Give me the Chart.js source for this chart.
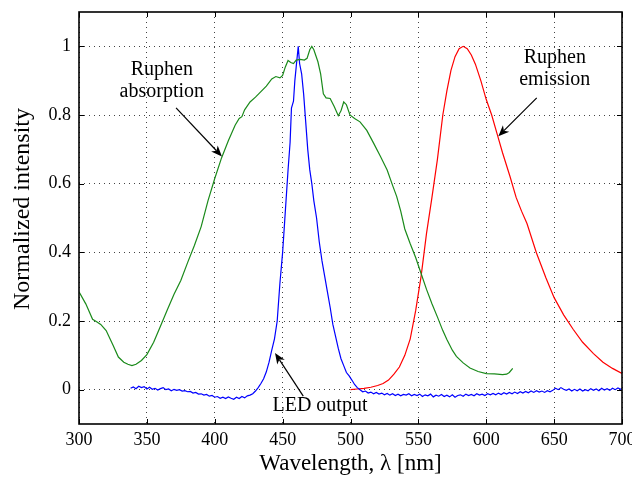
<!DOCTYPE html>
<html>
<head>
<meta charset="utf-8">
<script src="https://cdn.jsdelivr.net/npm/chart.js@4.4.1/dist/chart.umd.min.js"></script>
<style>
html,body{margin:0;padding:0;background:#fff;}
#wrap{width:632px;height:478px;position:relative;}
</style>
</head>
<body>
<div id="wrap"><canvas id="c" width="632" height="478"></canvas></div>
<script>
// ---- Data ----
const xTickValues = [300, 350, 400, 450, 500, 550, 600, 650, 700];
const yTickValues = [0, 0.2, 0.4, 0.6, 0.8, 1];
const yTickLabels = ['0', '0.2', '0.4', '0.6', '0.8', '1'];
const xTitle = 'Wavelength, λ [nm]';
const yTitle = 'Normalized intensity';

const absWl = [300,305,310,313,316,320,325,329,333,336,339,342,346,350,355,360,365,370,375,380,385,390,395,400,405,410,415,418,420,422,426,430,434,438,442,445,448,450,452,454,456,458,460,463,466,468,470,471.5,473,476,478,480,482,485,488,491,493,495,497,499.6,503,507,512,517,522,527,531,534,537,540,544,548,551,556,560,564,568,571,575,578,583,588,594,600,606,612,615,617,619.5];
const absVal = [0.285,0.25,0.205,0.198,0.19,0.172,0.13,0.095,0.08,0.074,0.07,0.074,0.085,0.102,0.138,0.185,0.232,0.278,0.318,0.37,0.42,0.475,0.55,0.615,0.675,0.725,0.77,0.79,0.795,0.815,0.838,0.852,0.868,0.884,0.905,0.912,0.908,0.915,0.94,0.959,0.953,0.95,0.96,0.962,0.96,0.965,0.99,1.0,0.99,0.955,0.92,0.862,0.85,0.848,0.825,0.798,0.812,0.838,0.83,0.80,0.79,0.78,0.755,0.718,0.68,0.64,0.595,0.563,0.52,0.468,0.425,0.385,0.35,0.292,0.25,0.212,0.172,0.146,0.115,0.097,0.078,0.063,0.053,0.047,0.046,0.044,0.045,0.05,0.062];

const emWl = [500,505,510,515,520,524,528,532,536,540,544,548,552,556,560,564,568,571,574,577,580,583,586,589,592,596,600,604,608,612,617.5,622,626,630,637,644,650,657,664,671,679,686,693,700];
const emVal = [0.0,0.002,0.004,0.007,0.012,0.018,0.028,0.045,0.066,0.1,0.148,0.23,0.33,0.455,0.56,0.67,0.8,0.87,0.93,0.97,0.993,1.0,0.993,0.975,0.948,0.9,0.845,0.8,0.745,0.69,0.621,0.56,0.52,0.484,0.398,0.325,0.268,0.218,0.176,0.138,0.105,0.08,0.062,0.047];

const ledWl = [338,340,342,344,346,348,350,352,354,356,358,360,362,364,366,368,370,372,374,376,378,380,382,384,386,388,390,392,394,396,398,400,402,404,406,408,410,412,414,416,418,420,422,424,426,428,430,432,434,436,438,440,442,444,446,448,450,452,454,455.5,456.5,458,459,460,461.5,462.5,464,465.5,467,468.5,470,471.5,473,475,477,479,481,483,485,487,489,491,493,495,497,499,501,503,505,507,509,511,513,515,517,519,521,523,525,527,529,531,533,535,537,539,541,543,545,547,549,551,553,555,557,559,561,563,565,567,569,571,573,575,577,579,581,583,585,587,589,591,593,595,597,599,601,603,605,607,609,611,613,615,617,619,621,623,625,627,629,631,633,635,637,639,641,643,645,647,649,651,653,655,657,659,661,663,665,667,669,671,673,675,677,679,681,683,685,687,689,691,693,695,697,699,700];
const ledVal = [0.004,0.008,0.003,0.01,0.006,0.009,0.002,0.007,0.001,0.004,-0.001,0.003,0.006,0.0,0.002,-0.003,0.001,-0.002,0.0,-0.004,-0.003,-0.006,-0.005,-0.01,-0.008,-0.013,-0.012,-0.016,-0.014,-0.019,-0.017,-0.022,-0.02,-0.025,-0.022,-0.026,-0.021,-0.025,-0.028,-0.022,-0.026,-0.02,-0.024,-0.018,-0.016,-0.012,-0.004,0.006,0.018,0.032,0.052,0.08,0.115,0.148,0.2,0.31,0.4,0.52,0.64,0.72,0.82,0.84,0.9,0.94,1.0,0.95,0.92,0.86,0.78,0.7,0.64,0.6,0.55,0.5,0.43,0.375,0.33,0.285,0.24,0.19,0.155,0.12,0.09,0.07,0.05,0.04,0.028,0.015,0.006,0.0,-0.006,-0.004,-0.01,-0.007,-0.012,-0.008,-0.013,-0.01,-0.015,-0.011,-0.016,-0.012,-0.017,-0.013,-0.018,-0.014,-0.016,-0.012,-0.018,-0.014,-0.017,-0.013,-0.02,-0.015,-0.018,-0.013,-0.021,-0.016,-0.019,-0.014,-0.02,-0.016,-0.021,-0.015,-0.022,-0.017,-0.015,-0.019,-0.013,-0.017,-0.014,-0.018,-0.012,-0.016,-0.013,-0.017,-0.012,-0.015,-0.011,-0.015,-0.01,-0.014,-0.009,-0.013,-0.008,-0.012,-0.007,-0.011,-0.006,-0.01,-0.005,-0.009,-0.004,-0.008,-0.003,-0.007,-0.004,-0.008,-0.003,-0.006,-0.002,0.004,0.0,0.006,0.001,-0.002,0.002,-0.004,0.001,-0.003,0.002,-0.004,0.0,-0.003,0.003,-0.002,0.002,-0.003,0.004,-0.001,0.003,-0.002,0.004,0.0,0.005,0.001,0.003];

// annotations: text lines at x (nm) and y values per line; arrows: tail -> head in data units
const notes = [
  {lines: ['Ruphen', 'absorption'], x: 361, y: [0.932, 0.868]},
  {lines: ['Ruphen', 'emission'], x: 650.5, y: [0.967, 0.903]},
  {lines: ['LED output'], x: 477.5, y: [-0.046]}
];
const arrows = [
  {from: [371.5, 0.821], to: [405.3, 0.679]},
  {from: [637.2, 0.85], to: [608.9, 0.738]},
  {from: [465.2, -0.019], to: [444.4, 0.107]}
];

const pts = (xs, ys) => xs.map((x, i) => ({x: x, y: ys[i]}));
const FONT = 'Liberation Serif';

const decor = {
  id: 'decor',
  afterDatasetsDraw(chart) {
    const {ctx, chartArea: a, scales: {x, y}} = chart;
    ctx.save();
    // inner ticks
    ctx.strokeStyle = '#000';
    ctx.lineWidth = 1;
    const tl = 5;
    ctx.beginPath();
    xTickValues.forEach(v => {
      const px = Math.round(x.getPixelForValue(v)) + 0.5;
      ctx.moveTo(px, a.bottom); ctx.lineTo(px, a.bottom - tl);
      ctx.moveTo(px, a.top); ctx.lineTo(px, a.top + tl);
    });
    yTickValues.forEach(v => {
      const py = Math.round(y.getPixelForValue(v)) + 0.5;
      ctx.moveTo(a.left, py); ctx.lineTo(a.left + tl, py);
      ctx.moveTo(a.right, py); ctx.lineTo(a.right - tl, py);
    });
    ctx.stroke();
    // frame
    ctx.lineWidth = 1.6;
    ctx.strokeRect(a.left, a.top, a.right - a.left, a.bottom - a.top);
    // annotations
    ctx.fillStyle = '#000';
    ctx.font = '20px "' + FONT + '"';
    ctx.textAlign = 'center';
    ctx.textBaseline = 'middle';
    notes.forEach(n => {
      n.lines.forEach((t, i) => {
        ctx.fillText(t, x.getPixelForValue(n.x), y.getPixelForValue(n.y[i]));
      });
    });
    // arrows
    arrows.forEach(ar => {
      const x1 = x.getPixelForValue(ar.from[0]), y1 = y.getPixelForValue(ar.from[1]);
      const x2 = x.getPixelForValue(ar.to[0]), y2 = y.getPixelForValue(ar.to[1]);
      const ang = Math.atan2(y2 - y1, x2 - x1);
      const c = Math.cos(ang), s = Math.sin(ang);
      const hl = 11, hw = 4.5, nb = 0.72;
      ctx.lineWidth = 1.2;
      ctx.beginPath();
      ctx.moveTo(x1, y1);
      ctx.lineTo(x2 - c * hl * nb, y2 - s * hl * nb);
      ctx.stroke();
      ctx.beginPath();
      ctx.moveTo(x2, y2);
      ctx.lineTo(x2 - c * hl - s * hw, y2 - s * hl + c * hw);
      ctx.lineTo(x2 - c * hl * nb, y2 - s * hl * nb);
      ctx.lineTo(x2 - c * hl + s * hw, y2 - s * hl - c * hw);
      ctx.closePath();
      ctx.fill();
    });
    // y axis title
    ctx.font = '24px "' + FONT + '"';
    ctx.translate(23, (a.top + a.bottom) / 2 - 9);
    ctx.rotate(-Math.PI / 2);
    ctx.fillText(yTitle, 0, 0);
    ctx.restore();
  }
};

const lineDs = (label, data, color) => ({
  label: label, data: data, borderColor: color, backgroundColor: color,
  borderWidth: 1.2, pointRadius: 0, tension: 0, fill: false
});

new Chart(document.getElementById('c'), {
  type: 'line',
  data: {
    datasets: [
      lineDs('Ruphen absorption', pts(absWl, absVal), '#1a8a1a'),
      lineDs('LED output', pts(ledWl, ledVal), '#0000ff'),
      lineDs('Ruphen emission', pts(emWl, emVal), '#ff0000')
    ]
  },
  options: {
    responsive: false,
    animation: false,
    layout: {padding: {top: 12, right: 10, left: 0, bottom: 0}},
    plugins: {legend: {display: false}, tooltip: {enabled: false}},
    scales: {
      x: {
        type: 'linear', min: 300, max: 700,
        afterBuildTicks: s => { s.ticks = xTickValues.map(v => ({value: v})); },
        afterFit: s => { s.height = 54; s.paddingLeft = 0; s.paddingRight = 0; },
        ticks: {color: '#000', font: {family: FONT, size: 18}, padding: 5, maxRotation: 0, autoSkip: false},
        grid: {color: '#444', lineWidth: 1, drawTicks: false},
        border: {display: false, dash: [1, 4]},
        title: {display: true, text: xTitle, color: '#000', font: {family: FONT, size: 23}, padding: {top: 0, bottom: 0}}
      },
      y: {
        type: 'linear', min: -0.1, max: 1.1,
        afterBuildTicks: s => { s.ticks = yTickValues.map(v => ({value: v})); },
        afterFit: s => { s.width = 79; s.paddingTop = 0; s.paddingBottom = 0; },
        ticks: {color: '#000', font: {family: FONT, size: 18}, padding: 8,
          callback: (v) => { const i = yTickValues.findIndex(t => Math.abs(t - v) < 1e-9); return i >= 0 ? yTickLabels[i] : ''; }},
        grid: {color: '#444', lineWidth: 1, drawTicks: false},
        border: {display: false, dash: [1, 4]},
        title: {display: false}
      }
    }
  },
  plugins: [decor]
});
</script>
</body>
</html>
